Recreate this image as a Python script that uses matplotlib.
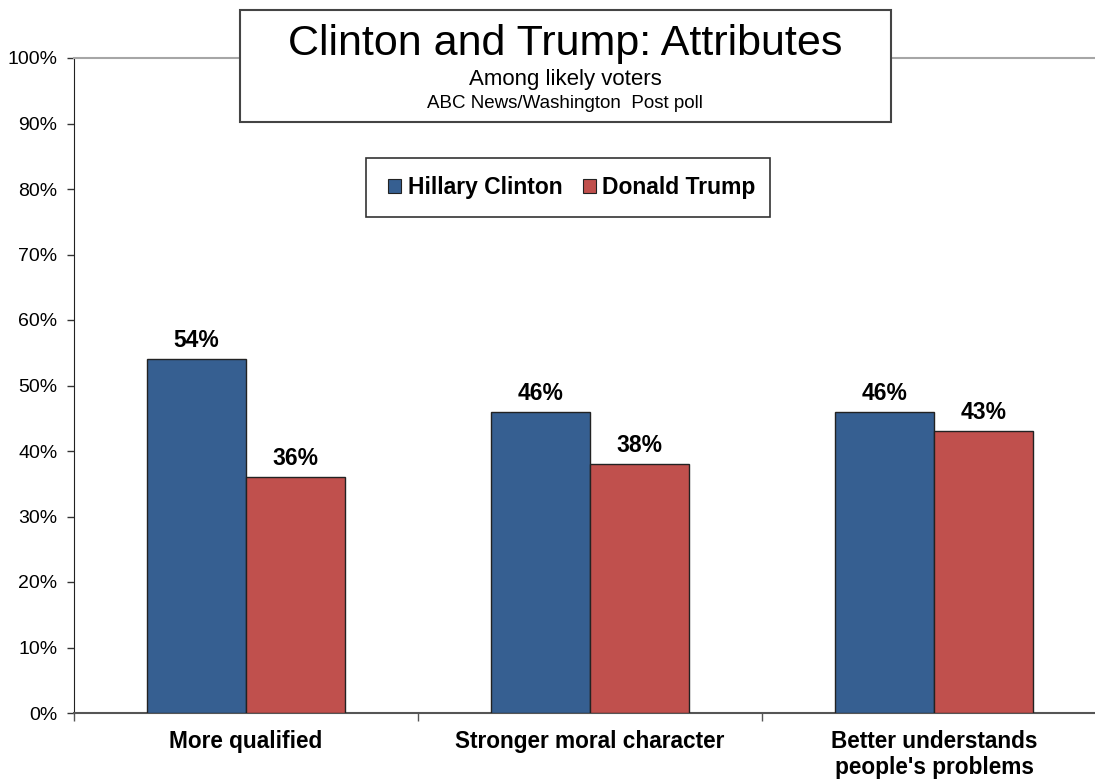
import matplotlib
matplotlib.use('Agg')
import matplotlib.pyplot as plt
from matplotlib.patches import Rectangle, Patch
from matplotlib.ticker import PercentFormatter, FixedLocator

categories = ['More qualified', 'Stronger moral character', "Better understands\npeople's problems"]
clinton = [54, 46, 46]
trump = [36, 38, 43]
series_names = ['Hillary Clinton', 'Donald Trump']
colors = ['#365F91', '#C0504D']

plt.rcParams['font.family'] = ['Liberation Sans', 'DejaVu Sans']

W, H = 1095, 779
fig = plt.figure(figsize=(W / 100, H / 100), dpi=100)

# plot area in pixel terms from the reference
left, right, top, bottom = 74, 1095, 58, 713
ax = fig.add_axes([left / W, 1 - bottom / H, (right - left) / W, (bottom - top) / H])

cat_px = 344
bw = 99 / cat_px
x = list(range(len(categories)))
ax.bar([i - bw / 2 for i in x], clinton, bw, color=colors[0], edgecolor='#222222', linewidth=1, zorder=3)
ax.bar([i + bw / 2 for i in x], trump, bw, color=colors[1], edgecolor='#222222', linewidth=1, zorder=3)

for i in x:
    ax.annotate(f'{clinton[i]}%', (i - bw / 2, clinton[i]), xytext=(0, 5), textcoords='offset points',
                ha='center', va='bottom', fontsize=16.5, fontweight='bold')
    ax.annotate(f'{trump[i]}%', (i + bw / 2, trump[i]), xytext=(0, 5), textcoords='offset points',
                ha='center', va='bottom', fontsize=16.5, fontweight='bold')

ax.set_xlim(-0.5, -0.5 + (right - left) / cat_px)
ax.set_ylim(0, 100)
ax.set_yticks(range(0, 101, 10))
ax.yaxis.set_major_formatter(PercentFormatter(decimals=0))
ax.tick_params(axis='y', labelsize=14, length=5, width=1, pad=7, color='#333333')

ax.xaxis.set_major_locator(FixedLocator([-0.5, 0.5, 1.5]))
ax.xaxis.set_minor_locator(FixedLocator(x))
ax.set_xticklabels([], minor=False)
ax.set_xticklabels(categories, minor=True, fontsize=16.3, fontweight='bold', linespacing=1.2)
ax.tick_params(axis='x', which='major', length=6, width=1, direction='out', color='#555555')
ax.tick_params(axis='x', which='minor', length=0, pad=12)
for lab in ax.get_xticklabels(minor=True):
    lab.set_verticalalignment('top')

ax.spines['left'].set_color('#222222')
ax.spines['bottom'].set_color('#555555')
ax.spines['bottom'].set_linewidth(1.5)
ax.spines['top'].set_color('#A6A6A6')
ax.spines['top'].set_linewidth(1.5)
ax.spines['right'].set_visible(False)

# title box
fig.patches.append(Rectangle((240 / W, 1 - 122 / H), 651 / W, 112 / H, transform=fig.transFigure,
                             facecolor='white', edgecolor='#444444', linewidth=1.5, zorder=5))
fig.text(565 / W, 1 - 44 / H, 'Clinton and Trump: Attributes', ha='center', va='center',
         fontsize=31, zorder=6)
fig.text(565 / W, 1 - 79 / H, 'Among likely voters', ha='center', va='center', fontsize=16, zorder=6)
fig.text(565 / W, 1 - 103 / H, 'ABC News/Washington  Post poll', ha='center', va='center', fontsize=13.5, zorder=6)

# legend box
fig.patches.append(Rectangle((366 / W, 1 - 217 / H), 404 / W, 59 / H, transform=fig.transFigure,
                             facecolor='white', edgecolor='#333333', linewidth=1.2, zorder=5))
handles = [Patch(facecolor=c, edgecolor='#222222', linewidth=0.8) for c in colors]
leg = fig.legend(handles, series_names, loc='center', bbox_to_anchor=(572 / W, 1 - 187.5 / H),
                 ncol=2, frameon=False, prop={'size': 16.5, 'weight': 'bold'},
                 handlelength=0.55, handleheight=0.55, handletextpad=0.3, columnspacing=0.9)
leg.set_zorder(6)

fig.savefig('out.png', dpi=100)
